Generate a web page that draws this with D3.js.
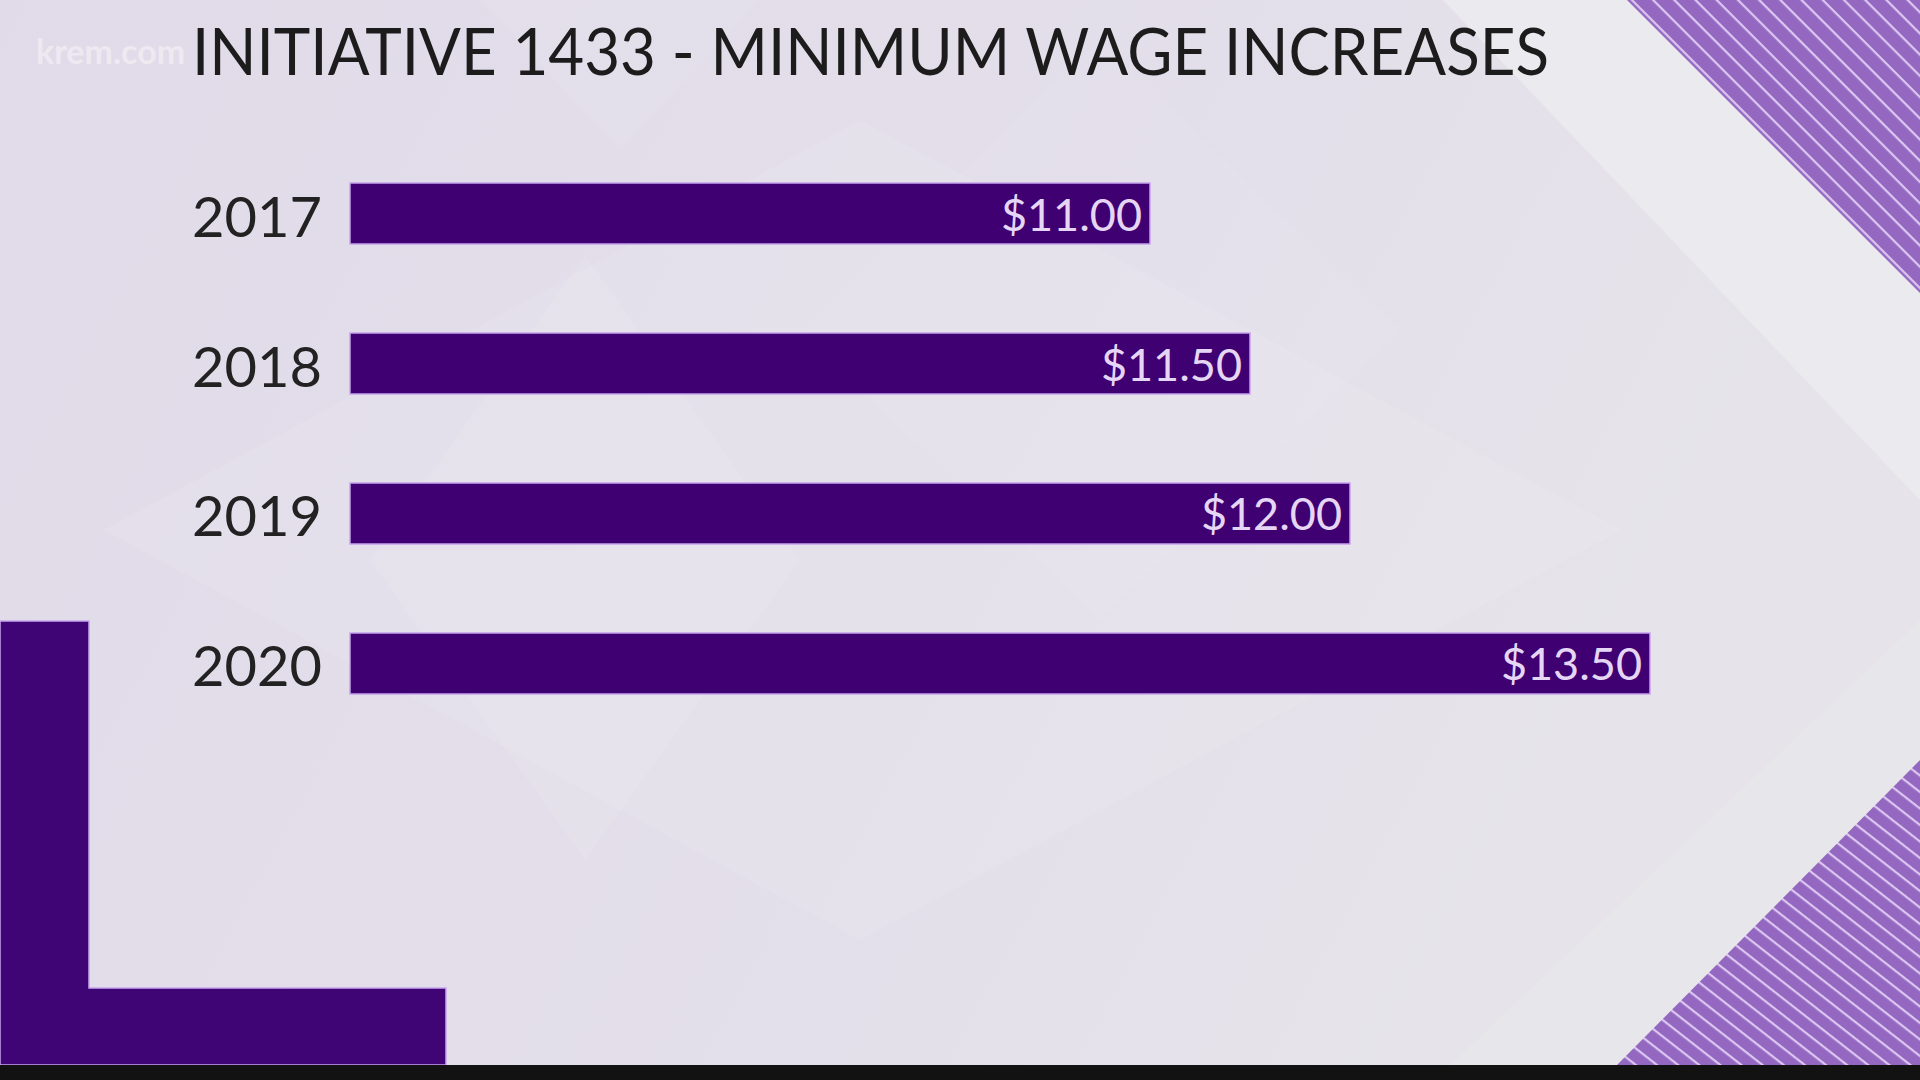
<!DOCTYPE html>
<html>
<head>
<meta charset="utf-8">
<script src="https://cdn.jsdelivr.net/npm/d3@7"></script>
<style>
  html, body { margin: 0; padding: 0; background: #e2dde9; }
  svg { display: block; }
</style>
</head>
<body>
<svg id="chart" width="1920" height="1080"></svg>
<script>
const title = "INITIATIVE 1433 - MINIMUM WAGE INCREASES";
const years = ["2017", "2018", "2019", "2020"];
const wages = [11.00, 11.50, 12.00, 13.50];
const wageLabels = ["$11.00", "$11.50", "$12.00", "$13.50"];
const watermark = "krem.com";

const W = 1920, H = 1080;
const svg = d3.select("#chart");
const defs = svg.append("defs");

// background gradient
const bg = defs.append("linearGradient").attr("id", "bg").attr("x1", 0).attr("y1", 0).attr("x2", 1).attr("y2", 0.3);
bg.append("stop").attr("offset", "0%").attr("stop-color", "#e1dbe9");
bg.append("stop").attr("offset", "60%").attr("stop-color", "#e3dfea");
bg.append("stop").attr("offset", "100%").attr("stop-color", "#e6e4ea");

// stripe patterns
const p1 = defs.append("pattern").attr("id", "stripesTop").attr("patternUnits", "userSpaceOnUse")
  .attr("width", 15).attr("height", 15).attr("patternTransform", "rotate(45)");
p1.append("rect").attr("width", 15).attr("height", 15).attr("fill", "#9468c0");
p1.append("rect").attr("x", 0).attr("y", 0).attr("width", 15).attr("height", 2.2).attr("fill", "#dcc6f2");

const p2 = defs.append("pattern").attr("id", "stripesBot").attr("patternUnits", "userSpaceOnUse")
  .attr("width", 13).attr("height", 13).attr("patternTransform", "rotate(38)");
p2.append("rect").attr("width", 13).attr("height", 13).attr("fill", "#9468c0");
p2.append("rect").attr("x", 0).attr("y", 0).attr("width", 13).attr("height", 2.2).attr("fill", "#dcc6f2");

svg.append("rect").attr("width", W).attr("height", H).attr("fill", "url(#bg)");

// faint diamond shapes in background
const faint = svg.append("g").attr("fill", "#ffffff");
faint.append("path").attr("d", "M104,530 L860,120 L1622,530 L860,940 Z").attr("opacity", 0.09);
faint.append("path").attr("d", "M585,255 L800,560 L585,860 L370,560 Z").attr("opacity", 0.09);
faint.append("path").attr("d", "M1100,40 L1400,330 L1100,620 L800,330 Z").attr("opacity", 0.06);
faint.append("path").attr("d", "M480,0 L760,0 L620,150 Z").attr("opacity", 0.06);

// light right-side regions
svg.append("path").attr("d", "M1443,0 L1920,0 L1920,500 Z").attr("fill", "#ebeaee");
svg.append("path").attr("d", "M1920,620 L1920,1065 L1450,1065 Z").attr("fill", "#e7e6ea").attr("opacity", 0.8);

// striped corner bands
svg.append("path").attr("d", "M1627,0 L1920,0 L1920,293 Z").attr("fill", "url(#stripesTop)");
svg.append("path").attr("d", "M1920,760 L1920,1065 L1617,1065 Z").attr("fill", "url(#stripesBot)");

// bottom-left purple L shape
svg.append("path")
  .attr("d", "M0,621 L89,621 L89,988 L446,988 L446,1065 L0,1065 Z")
  .attr("fill", "#3f0575").attr("stroke", "#c9a6ef").attr("stroke-width", 1.5);

// bottom black strip
svg.append("rect").attr("x", 0).attr("y", 1065).attr("width", W).attr("height", 15).attr("fill", "#121212");

// watermark
svg.append("text").attr("x", 36).attr("y", 64).text(watermark)
  .attr("font-family", "Lato, 'Open Sans', sans-serif").attr("font-size", 34).attr("font-weight", 700)
  .attr("fill", "#ffffff").attr("opacity", 0.4);

// title
svg.append("text").attr("x", 192).attr("y", 75).text(title)
  .attr("font-family", "Lato, 'Open Sans', sans-serif").attr("font-size", 66)
  .attr("fill", "#1c1c1c")
  .attr("textLength", 1357).attr("lengthAdjust", "spacingAndGlyphs");

// scales
const x = d3.scaleLinear().domain([7, 13.5]).range([350, 1650]);
const y = d3.scaleBand().domain(years).range([183, 694]).paddingInner(0.5933).paddingOuter(0);

const data = years.map((yr, i) => ({ year: yr, wage: wages[i], label: wageLabels[i] }));

const g = svg.append("g");
g.selectAll("rect.bar").data(data).enter().append("rect")
  .attr("class", "bar")
  .attr("x", x(7))
  .attr("y", d => y(d.year))
  .attr("width", d => x(d.wage) - x(7))
  .attr("height", y.bandwidth())
  .attr("fill", "#3f0072")
  .attr("stroke", "#c6a3ee").attr("stroke-width", 1.5);

g.selectAll("text.year").data(data).enter().append("text")
  .attr("class", "year")
  .attr("x", 192)
  .attr("y", d => y(d.year) + y.bandwidth() / 2 + 23)
  .text(d => d.year)
  .attr("font-family", "Lato, 'Open Sans', sans-serif").attr("font-size", 56)
  .attr("fill", "#222222");

g.selectAll("text.val").data(data).enter().append("text")
  .attr("class", "val")
  .attr("x", d => x(d.wage) - 8)
  .attr("y", d => y(d.year) + y.bandwidth() / 2 + 17)
  .attr("text-anchor", "end")
  .text(d => d.label)
  .attr("font-family", "Lato, 'Open Sans', sans-serif").attr("font-size", 45)
  .attr("fill", "#e6d6f6");
</script>
</body>
</html>
